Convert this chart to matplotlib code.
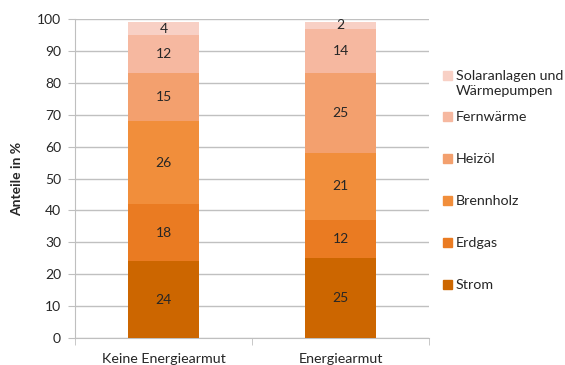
import matplotlib.pyplot as plt
from matplotlib.patches import Rectangle

plt.rcParams['font.family'] = ['Lato', 'DejaVu Sans']

categories = ['Keine Energiearmut', 'Energiearmut']
series = ['Strom', 'Erdgas', 'Brennholz', 'Heizöl', 'Fernwärme', 'Solaranlagen und\nWärmepumpen']
values = {
    'Strom': [24, 25],
    'Erdgas': [18, 12],
    'Brennholz': [26, 21],
    'Heizöl': [15, 25],
    'Fernwärme': [12, 14],
    'Solaranlagen und\nWärmepumpen': [4, 2],
}
colors = ['#cc6600', '#ea7b22', '#f18e3b', '#f3a06e', '#f6b8a0', '#f8d0c5']

W, H = 565, 365
fig = plt.figure(figsize=(W / 100, H / 100), dpi=100)
ax = fig.add_axes([75 / W, 27 / H, 354 / W, 319 / H])

x = [0, 1]
bottom = [0, 0]
for name, col in zip(series, colors):
    v = values[name]
    ax.bar(x, v, width=0.4, bottom=bottom, color=col, zorder=3)
    for i in range(2):
        ax.text(x[i], bottom[i] + v[i] / 2, str(v[i]), ha='center', va='center',
                fontsize=10, color='#262626', zorder=4)
    bottom = [bottom[i] + v[i] for i in range(2)]

ax.set_xlim(-0.5, 1.5)
ax.set_ylim(0, 100)
ax.set_yticks(range(0, 101, 10))
ax.set_xticks(x)
ax.set_xticklabels(categories, fontsize=10.3, color='#262626')
ax.tick_params(axis='x', length=0, pad=11)
ax.tick_params(axis='y', length=5, color='#bfbfbf', labelsize=10, labelcolor='#262626', pad=5)
ax.set_xticks([-0.5, 0.5, 1.5], minor=True)
ax.tick_params(axis='x', which='minor', length=5, color='#bfbfbf')
ax.grid(axis='y', color='#c0c0c0', linewidth=1, zorder=0)
for s in ['top', 'right']:
    ax.spines[s].set_visible(False)
for s in ['left', 'bottom']:
    ax.spines[s].set_color('#bfbfbf')
ax.set_ylabel('Anteile in %', fontsize=10, fontweight='bold', color='#262626', labelpad=10)

# legend, drawn by hand so the two-line entry sits like the original
legend_y = [284, 242, 200, 158, 116, 75]
for name, col, ly in zip(series, colors, legend_y):
    fig.patches.append(Rectangle((443 / W, 1 - (ly + 4.5) / H), 9 / W, 9 / H,
                                 transform=fig.transFigure, color=col))
    fig.text(456 / W, 1 - (ly - 5) / H, name, ha='left', va='top', fontsize=10.3,
             color='#262626', linespacing=1.3)

fig.savefig('out.png', dpi=100)
